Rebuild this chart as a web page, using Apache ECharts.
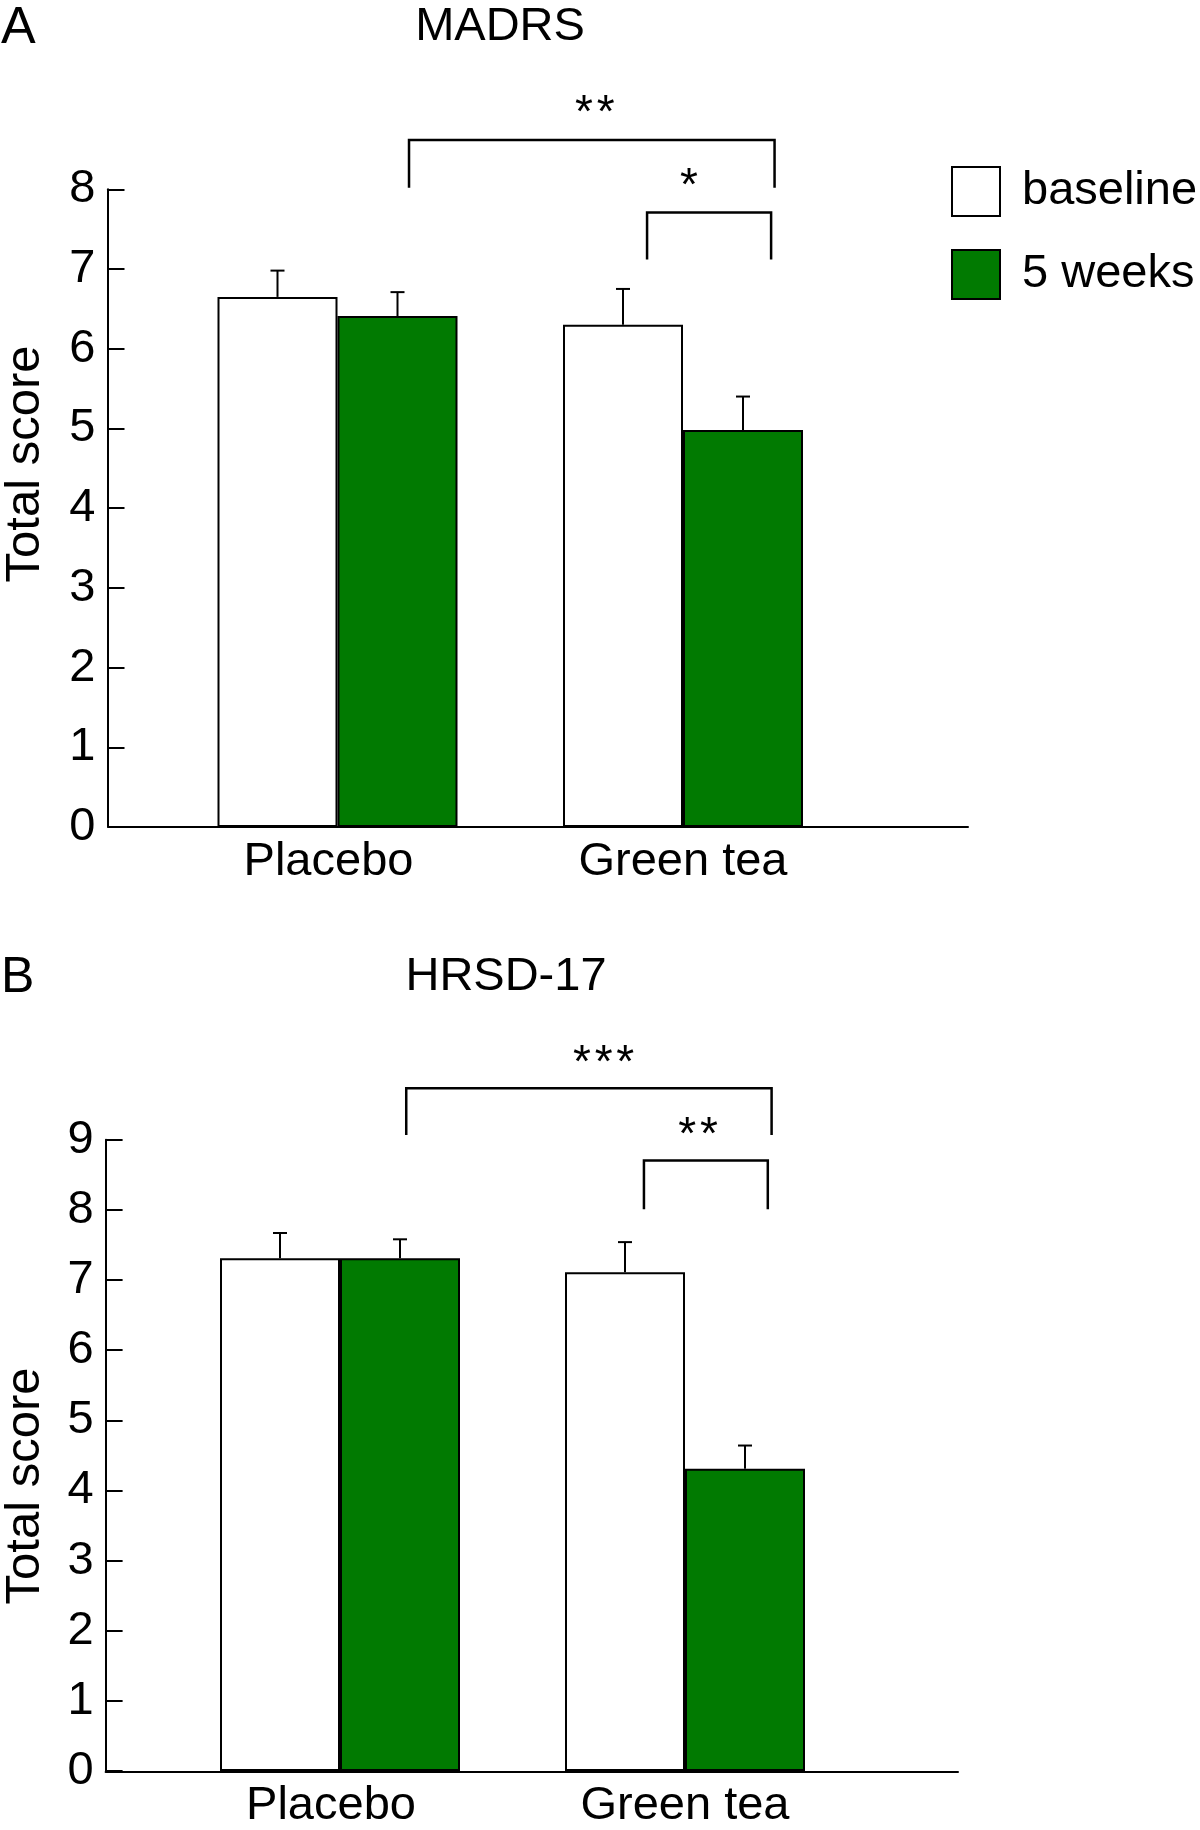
<!DOCTYPE html>
<html><head><meta charset="utf-8">
<script src="https://cdn.jsdelivr.net/npm/echarts@6/dist/echarts.min.js"></script>
<style>html,body{margin:0;padding:0;background:#fff}#c{width:1200px;height:1830px}</style>
</head><body><div id="c"></div>
<script>
// ---------- data ----------
const categories = ['Placebo', 'Green tea'];
const seriesNames = ['baseline', '5 weeks'];

const madrsBaseline = [6.65, 6.30];
const madrsBaselineErr = [0.33, 0.45];
const madrsWeek5 = [6.41, 4.98];
const madrsWeek5Err = [0.30, 0.42];

const hrsdBaseline = [7.31, 7.11];
const hrsdBaselineErr = [0.36, 0.43];
const hrsdWeek5 = [7.31, 4.31];
const hrsdWeek5Err = [0.27, 0.33];

const madrsTickMax = 8;
const hrsdTickMax = 9;

// significance brackets: [left x, right x (category units), top y, left leg end y, right leg end y, label x, label y, label]
const madrsBrackets = [
  [0.207, 1.265, 8.62, 8.02, 8.02, 0.745, 8.94, '*\u200A*'],
  [0.896, 1.255, 7.71, 7.12, 7.12, 1.017, 8.03, '*']
];
const hrsdBrackets = [
  [0.192, 1.251, 9.735, 9.066, 9.066, 0.764, 10.07, '*\u200A*\u200A*'],
  [0.881, 1.240, 8.705, 8.01, 8.01, 1.038, 9.055, '*\u200A*']
];

// ---------- style ----------
const FONT = '"Liberation Sans", Arial, Helvetica, sans-serif';
const FS = 47;
const GREEN = '#017A01';
const BAR_W = 120;
const LW = 2;

function errorSeries(gridIdx, means, errs, offsetSign) {
  return {
    type: 'custom',
    xAxisIndex: gridIdx, yAxisIndex: gridIdx,
    z: 5,
    data: means.map((m, i) => [i, m, m + errs[i]]),
    encode: { x: 0, y: [1, 2] },
    renderItem: function (params, api) {
      const p0 = api.coord([api.value(0), api.value(1)]);
      const p1 = api.coord([api.value(0), api.value(2)]);
      const x = p0[0] + offsetSign * BAR_W / 2;
      const cap = 7;
      return {
        type: 'group',
        children: [
          { type: 'line', shape: { x1: x, y1: p0[1], x2: x, y2: p1[1] }, style: { stroke: '#000', lineWidth: LW } },
          { type: 'line', shape: { x1: x - cap, y1: p1[1], x2: x + cap, y2: p1[1] }, style: { stroke: '#000', lineWidth: LW } }
        ]
      };
    }
  };
}

function bracketSeries(gridIdx, brackets) {
  return {
    type: 'custom',
    xAxisIndex: gridIdx, yAxisIndex: gridIdx,
    z: 6,
    clip: false,
    data: brackets.map(() => [0, 0]),
    renderItem: function (params, api) {
      const b = brackets[params.dataIndex];
      const x0 = api.coord([0, 0])[0];
      const band = api.size([1, 0])[0];
      const xl = x0 + b[0] * band, xr = x0 + b[1] * band;
      const yt = api.coord([0, b[2]])[1];
      const yl = api.coord([0, b[3]])[1];
      const yr = api.coord([0, b[4]])[1];
      const lx = x0 + b[5] * band;
      const ly = api.coord([0, b[6]])[1];
      return {
        type: 'group',
        children: [
          { type: 'polyline', shape: { points: [[xl, yl], [xl, yt], [xr, yt], [xr, yr]] },
            style: { stroke: '#000', lineWidth: 2.5, fill: null } },
          { type: 'text', style: { text: b[7], x: lx, y: ly, font: '46px ' + FONT,
            fill: '#000', align: 'center', verticalAlign: 'middle' } }
        ]
      };
    }
  };
}

function barSeries(gridIdx, name, values, color) {
  return {
    type: 'bar', name: name,
    xAxisIndex: gridIdx, yAxisIndex: gridIdx,
    barWidth: BAR_W, barGap: '0%',
    data: values,
    itemStyle: { color: color, borderColor: '#000', borderWidth: LW },
    emphasis: { disabled: true }
  };
}

function valueYAxis(gridIdx, max, offset) {
  return {
    gridIndex: gridIdx, type: 'value', min: 0, max: max, interval: 1, offset: offset,
    axisLine: { show: true, lineStyle: { color: '#000', width: LW } },
    axisTick: { show: true, inside: true, length: 17, lineStyle: { color: '#000', width: LW } },
    axisLabel: { fontSize: FS, color: '#000', fontFamily: FONT, margin: 12 },
    splitLine: { show: false }
  };
}
function catXAxis(gridIdx) {
  return {
    gridIndex: gridIdx, type: 'category',
    data: categories.map((c, i) => i === 0 ? { value: c, textStyle: { padding: [0, 18, 0, 0] } } : c),
    axisLine: { show: false }, axisTick: { show: false },
    axisLabel: { fontSize: FS, color: '#000', fontFamily: FONT, margin: 12 },
    splitLine: { show: false }
  };
}
function lineXAxis(gridIdx) {
  return {
    gridIndex: gridIdx, type: 'value', min: 0, max: 1,
    axisLine: { show: true, onZero: false, lineStyle: { color: '#000', width: LW } },
    axisTick: { show: false }, axisLabel: { show: false }, splitLine: { show: false }
  };
}
function hiddenYAxis(gridIdx) {
  return { gridIndex: gridIdx, type: 'value', min: 0, max: 1, show: false };
}

const chart = echarts.init(document.getElementById('c'), null, { renderer: 'canvas' });
chart.setOption({
  animation: false,
  backgroundColor: '#fff',
  textStyle: { fontFamily: FONT },
  grid: [
    { left: 164.75, right: 344.25, top: 189.3, bottom: 1003 },
    { left: 167.5, right: 342.5, top: 1139.7, bottom: 58 },
    { left: 116, right: 232, top: 189.3, bottom: 1003 },
    { left: 105.6, right: 242, top: 1139.7, bottom: 58 }
  ],
  xAxis: [catXAxis(0), catXAxis(1), lineXAxis(2), lineXAxis(3)],
  yAxis: [valueYAxis(0, madrsTickMax, 57.25), valueYAxis(1, hrsdTickMax, 61.9), hiddenYAxis(2), hiddenYAxis(3)],
  legend: {
    data: seriesNames, orient: 'vertical', left: 951, top: 166, padding: 0,
    itemWidth: 48, itemHeight: 49, itemGap: 32, icon: 'rect',
    itemStyle: { borderColor: '#000', borderWidth: LW },
    textStyle: { fontSize: FS, color: '#000', fontFamily: FONT, padding: [4, 0, 0, 17] },
    selectedMode: false
  },
  graphic: [
    { type: 'text', left: 1, top: 3, style: { text: 'A', font: '52px ' + FONT, fill: '#000' } },
    { type: 'text', left: 1, top: 953, style: { text: 'B', font: '50px ' + FONT, fill: '#000' } },
    { type: 'text', x: 500, y: 27, style: { text: 'MADRS', font: FS + 'px ' + FONT, fill: '#000', align: 'center', verticalAlign: 'middle' } },
    { type: 'text', x: 506, y: 977, style: { text: 'HRSD-17', font: FS + 'px ' + FONT, fill: '#000', align: 'center', verticalAlign: 'middle' } },
    { type: 'text', x: 25, y: 464, rotation: Math.PI / 2, style: { text: 'Total score', font: '49px ' + FONT, fill: '#000', align: 'center', verticalAlign: 'middle' } },
    { type: 'text', x: 25, y: 1486, rotation: Math.PI / 2, style: { text: 'Total score', font: '49px ' + FONT, fill: '#000', align: 'center', verticalAlign: 'middle' } }
  ],
  series: [
    barSeries(0, seriesNames[0], madrsBaseline, '#fff'),
    barSeries(0, seriesNames[1], madrsWeek5, GREEN),
    errorSeries(0, madrsBaseline, madrsBaselineErr, -1),
    errorSeries(0, madrsWeek5, madrsWeek5Err, 1),
    bracketSeries(0, madrsBrackets),
    barSeries(1, seriesNames[0], hrsdBaseline, '#fff'),
    barSeries(1, seriesNames[1], hrsdWeek5, GREEN),
    errorSeries(1, hrsdBaseline, hrsdBaselineErr, -1),
    errorSeries(1, hrsdWeek5, hrsdWeek5Err, 1),
    bracketSeries(1, hrsdBrackets)
  ]
});
</script>
</body></html>
